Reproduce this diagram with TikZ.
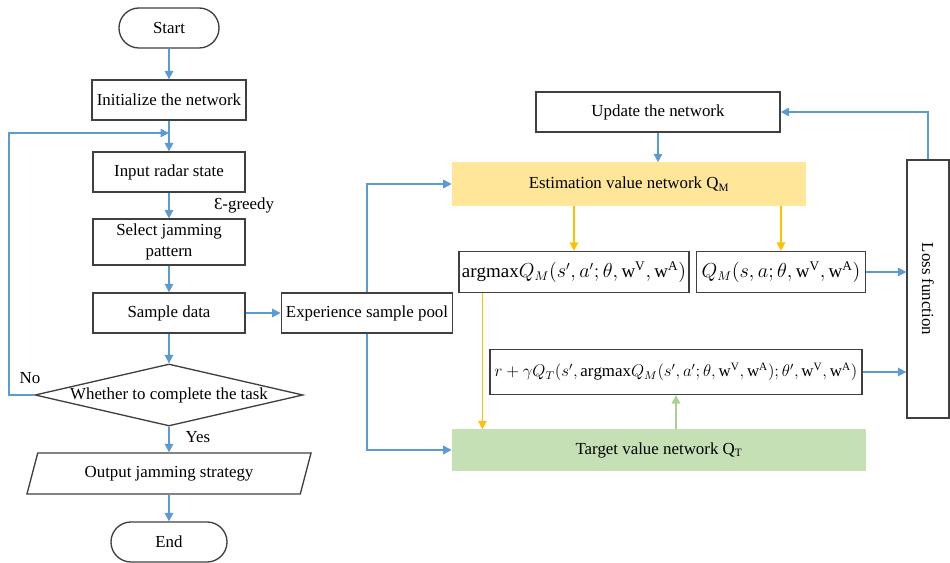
\documentclass[tikz,border=0pt]{standalone}
\usepackage{fontspec}
\setmainfont{Liberation Serif}
\usepackage{graphicx}
\usetikzlibrary{shapes,arrows.meta,calc,positioning}
\definecolor{lineblue}{HTML}{5B9BD5}
\definecolor{pickorange}{HTML}{FFC000}
\definecolor{copygreen}{HTML}{A9D18E}
\definecolor{estfill}{HTML}{FFE699}
\definecolor{tarfill}{HTML}{C5E0B4}
\definecolor{boxline}{HTML}{404040}
\tikzset{
    -{Triangle[length=6pt,width=6pt]},semithick,
    font=\fontsize{12}{14}\selectfont,
    box/.style ={rectangle, draw=boxline, line width=0.95pt, minimum width=3.8cm, minimum height=1cm},
    terminal/.style = {rectangle, rounded corners=0.5cm, draw=boxline, line width=0.95pt, minimum height=1cm},
    decision/.style = {diamond, draw=boxline, line width=0.95pt, aspect=4.3, inner sep=0pt,
                       minimum width=6.7cm, minimum height=1.55cm},
    io/.style = {trapezium, trapezium left angle=66, trapezium right angle=114,
                 trapezium stretches body, draw=boxline, line width=0.95pt,
                 minimum width=7.1cm, minimum height=1.025cm},
    netbox/.style = {rectangle, minimum height=1.05cm},
    formula/.style = {font=\fontsize{13.5}{16}\selectfont, inner sep=2pt},
    flow/.style = {draw=lineblue, line width=1.2pt},
    pick/.style = {draw=pickorange, line width=1.2pt},
    copy/.style = {draw=copygreen, line width=1.2pt}
}
\begin{document}
\begin{tikzpicture}[x=0.025cm, y=-0.025cm]
  \useasboundingbox (0,0) rectangle (950,563);

  % flowchart on the left
  \node (start) at (169,28) [terminal, minimum width=2.5cm] {Start};
  \node (init) at (169,100) [box] {Initialize the network};
  \node (input) at (169,172) [box] {Input radar state};
  \node (select) at (169,242) [box, align=center, font=\fontsize{12}{15}\selectfont] {Select jamming\\pattern};
  \node (sample) at (169,313) [box] {Sample data};
  \node (task) at (169,395) [decision] {Whether to complete the task};
  \node (output) at (169,473.5) [io] {Output jamming strategy};
  \node (end) at (169,542) [terminal, minimum width=2.9cm] {End};
  \coordinate (join) at (169,133);

  \node (eps) at (244,205) {Ɛ-greedy};
  \node (no) at (30,378) {No};
  \node (yes) at (198,437) {Yes};

  % networks on the right
  \node (pool) at (367,313) [box, minimum width=4.225cm] {Experience sample pool};
  \node (update) at (658,112) [box, minimum width=6.1cm] {Update the network};
  \node (est) at (629,184) [netbox, fill=estfill, minimum width=8.85cm, minimum height=1.075cm]
        {Estimation value network Q\textsubscript{M}};
  \node (arg) at (574,272) [box, formula, minimum width=5.7cm, minimum height=1.025cm]
        {$\mathrm{argmax}Q_M(s',a';\theta,\mathrm{w^V},\mathrm{w^A})$};
  \node (qm) at (781,272) [box, formula, minimum width=4.225cm, minimum height=1.025cm]
        {$Q_M(s,a;\theta,\mathrm{w^V},\mathrm{w^A})$};
  \node (ytarget) at (676,372) [box, minimum width=9.05cm, minimum height=1.125cm]
        {\large$r+\gamma Q_T(s',\mathrm{argmax}Q_M(s',a';\theta,\mathrm{w^V},\mathrm{w^A});\theta',\mathrm{w^V},\mathrm{w^A})$};
  \node (tnet) at (659,450) [netbox, fill=tarfill, minimum width=10.35cm, minimum height=1.025cm]
        {Target value network Q\textsubscript{T}};
  \node (loss) at (928,289) [box, minimum width=1.05cm, minimum height=6.45cm]
        {\rotatebox{-90}{Loss function}};

  \path (start) edge[flow] (init);
  \path (init) edge[flow] (input);
  \path (input) edge[flow] (select);
  \path (select) edge[flow] (sample);
  \path (sample) edge[flow] (task);
  \path (task) edge[flow] (output);
  \path (output) edge[flow] (end);
  \draw[flow] (task.west) -- ++(-25,0) |- (join);
  \path (sample) edge[flow] (pool);

  \draw[flow] (pool.north) |- (est.west);
  \draw[flow] (pool.south) |- (tnet.west);
  \draw[flow] (update.south) -- (update.south |- est.north);
  \draw[pick] (arg.north |- est.south) -- (arg.north);
  \draw[pick] (qm.north |- est.south) -- (qm.north);
  \draw[pick] ([xshift=0.6cm]arg.south west) -- ([xshift=0.6cm]arg.south west |- tnet.north);
  \draw[copy] (ytarget.south |- tnet.north) -- (ytarget.south);
  \draw[flow] (qm.east) -- (qm.east -| loss.west);
  \draw[flow] (ytarget.east) -- (ytarget.east -| loss.west);
  \draw[flow] (loss.north) |- (update.east);
\end{tikzpicture}
\end{document}
